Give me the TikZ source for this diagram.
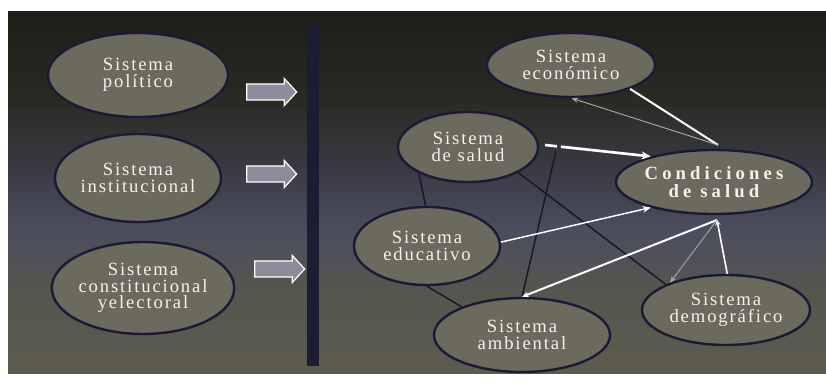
\documentclass[tikz,border=0pt]{standalone}
\usepackage{fontspec}
\setmainfont{Liberation Serif}
\usetikzlibrary{shapes.geometric,shapes.arrows,arrows.meta}

\definecolor{fondoA}{HTML}{1E1E18}
\definecolor{fondoB}{HTML}{2A2A24}
\definecolor{fondoC}{HTML}{3A3B44}
\definecolor{fondoD}{HTML}{4B4D5D}
\definecolor{fondoE}{HTML}{56564E}
\definecolor{fondoF}{HTML}{5C5B4D}
\definecolor{barra}{HTML}{1C1C32}
\definecolor{elipse}{HTML}{6C6A5C}
\definecolor{borde}{HTML}{1A1A36}
\definecolor{texto}{HTML}{F2F2EE}
\definecolor{flechagris}{HTML}{8C8C9C}
\definecolor{lineaoscura}{HTML}{17172A}
\definecolor{grisclaro}{HTML}{A8A8A8}

\pgfdeclareverticalshading{fondo}{100bp}{color(0bp)=(fondoF); color(25bp)=(fondoF);
  color(36bp)=(fondoE); color(45bp)=(fondoD); color(53bp)=(fondoC);
  color(63bp)=(fondoB); color(75bp)=(fondoA); color(100bp)=(fondoA)}

\tikzset{
  sistema/.style={ellipse, draw=borde, line width=1.8pt, fill=elipse, text=texto,
    align=center, inner sep=0pt,
    font=\fontsize{14}{12.5}\selectfont\addfontfeature{LetterSpace=10}},
  flecha/.style={single arrow, draw=white, line width=0.9pt, fill=flechagris,
    inner sep=5.6pt, minimum height=37.5pt, single arrow head extend=4.1pt,
    single arrow tip angle=95},
  lineaosc/.style={draw=lineaoscura, line width=1.1pt},
  blanca/.style={draw=white, line width=1.5pt},
  gris/.style={draw=grisclaro, line width=0.7pt, -{Stealth[length=5pt,width=4pt]}}
}

\begin{document}
\begin{tikzpicture}[x=0.75pt,y=-0.75pt]
  \useasboundingbox (0,0) rectangle (826,385);
  \fill[white] (0,0) rectangle (826,385);
  \shade[shading=fondo] (8,12) rectangle (826,373);
  \fill[barra] (307,24) rectangle (319,366);

  \node[sistema, minimum width=135pt, minimum height=63pt] (politico) at (138,75) {Sistema\\político};
  \node[sistema, minimum width=124.5pt, minimum height=66pt] (institucional) at (138,178) {Sistema\\institucional};
  \node[sistema, minimum width=135pt, minimum height=69pt] (constitucional) at (143,288) {Sistema\\constitucional\\yelectoral};

  \node[flecha] (f1) at (268,92) {};
  \node[flecha] (f2) at (268,174) {};
  \node[flecha] (f3) at (276,269) {};

  \node[sistema, minimum width=126pt, minimum height=48pt] (economico) at (571,65) {Sistema\\económico};
  \node[sistema, minimum width=105pt, minimum height=52.5pt] (salud) at (468,147) {Sistema\\de salud};
  \node[sistema, minimum width=133.5pt, minimum height=48pt,
    font=\fontsize{14}{13}\selectfont\bfseries\addfontfeature{LetterSpace=22}] (condiciones) at (714,182) {Condiciones\\de salud};
  \node[sistema, minimum width=109.5pt, minimum height=58.5pt] (educativo) at (427,246) {Sistema\\educativo};
  \node[sistema, minimum width=132pt, minimum height=55.5pt] (ambiental) at (522,335) {Sistema\\ambiental};
  \node[sistema, minimum width=126pt, minimum height=52.5pt] (demografico) at (726,310) {Sistema\\demográfico};

  \coordinate (sup) at (718,145);
  \coordinate (inf) at (717,220);
  \coordinate (sj) at (556,151);
  \coordinate (sd) at (545,145);

  \draw[lineaosc] (salud.208) -- (educativo.92);
  \draw[lineaosc] (salud.-27) -- (demografico.157);
  \draw[lineaosc] (sj) -- (ambiental.north);
  \draw[lineaosc] (educativo.south) -- (ambiental.155);

  \draw[blanca] (sup) -- (economico.-22);
  \draw[gris] (sup) -- (economico.-89);
  \draw[blanca, line width=2pt, dash pattern=on 9pt off 3pt on 200pt,
    -{Stealth[length=7pt,width=6pt]}] (sd) -- (condiciones.158);
  \draw[blanca, line width=1.1pt, -{Stealth[length=6pt,width=5pt]}] (educativo.3) -- (condiciones.202);
  \draw[blanca, -{Stealth[length=5pt,width=4pt]}] (inf) -- (ambiental.north);
  \draw[gris] (inf) -- (demografico.154);
  \draw[blanca, line width=1.2pt, -{Stealth[length=4pt,width=4pt]}] (demografico.88) -- (inf);
\end{tikzpicture}
\end{document}
